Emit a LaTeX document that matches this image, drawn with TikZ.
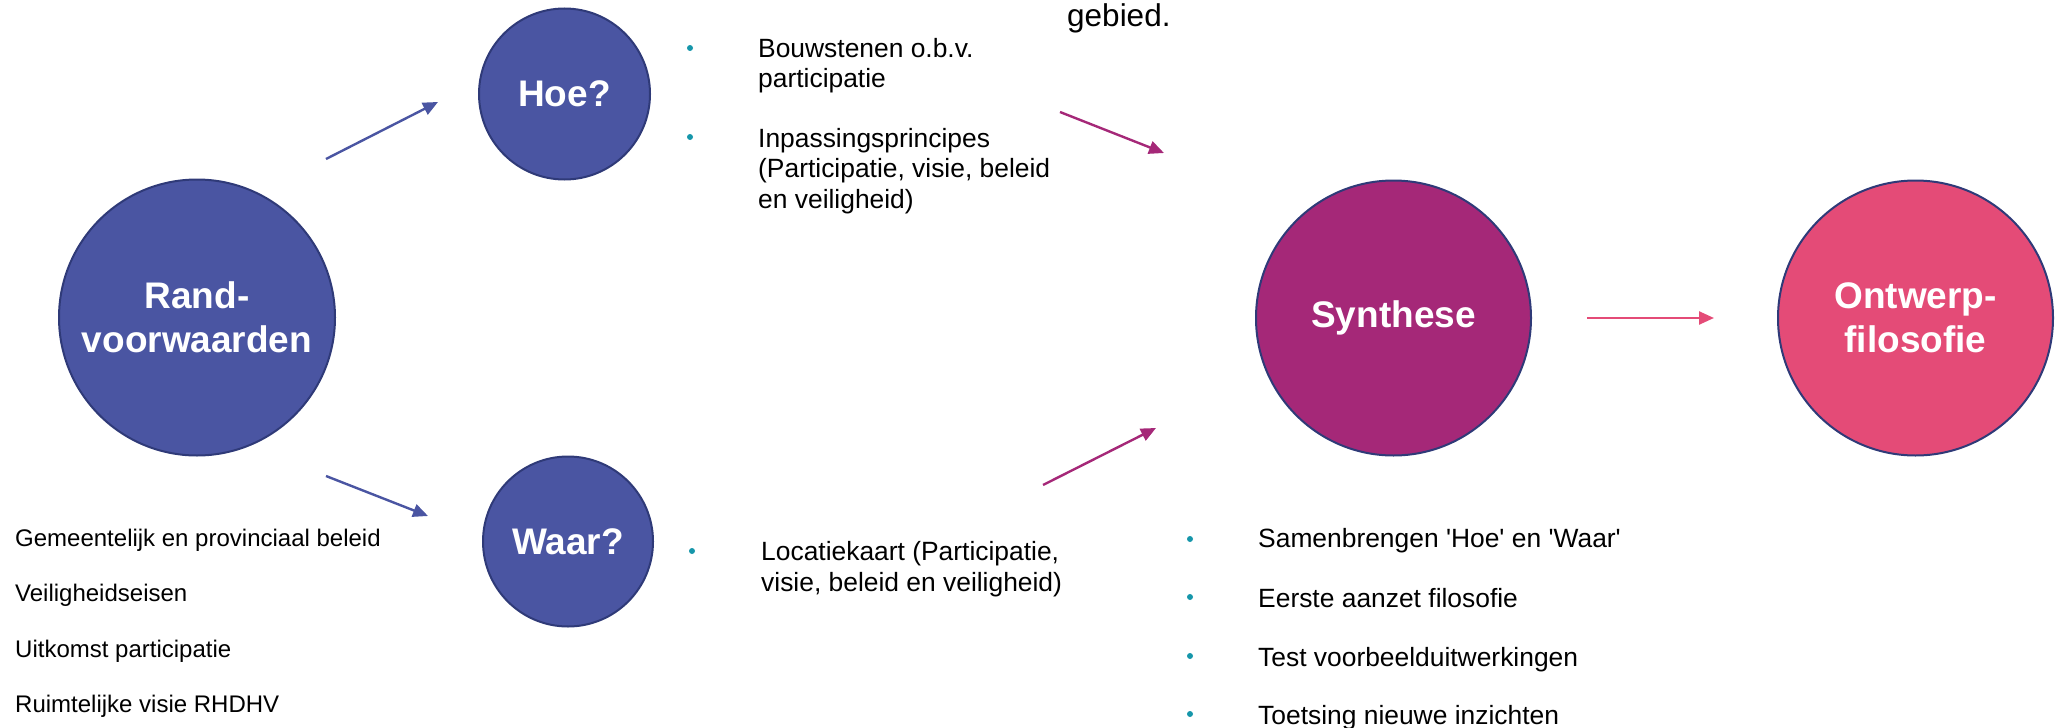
\documentclass[tikz,border=0pt]{standalone}
\usepackage{fontspec}
\setmainfont{Liberation Sans}
\usetikzlibrary{arrows.meta}
\definecolor{rhblue}{RGB}{74,85,162}
\definecolor{rhedge}{RGB}{47,58,120}
\definecolor{rhmag}{RGB}{165,40,120}
\definecolor{rhpink}{RGB}{228,75,119}
\definecolor{rhteal}{RGB}{22,150,170}
\begin{document}
\begin{tikzpicture}[x=1pt,y=-1pt,
  bubble/.style={circle, draw=rhedge, line width=2pt, text=white,
    font=\fontsize{37}{44}\selectfont\bfseries, align=center, inner sep=0pt},
  body/.style={font=\fontsize{26.4}{30.5}\selectfont, align=left, anchor=base west, inner sep=0pt},
  small/.style={font=\fontsize{24}{28}\selectfont, anchor=base west, inner sep=0pt},
  dot/.style={circle, fill=rhteal, inner sep=0pt, minimum size=6pt},
  flow/.style={line width=2.4pt, -{Triangle[length=15pt,width=13pt]}},
]
\useasboundingbox (0,0) rectangle (2057,728);

% circles
\node[bubble, fill=rhblue, minimum size=276pt] (rand) at (197,317.5) {Rand-\\voorwaarden};
\node[bubble, fill=rhblue, minimum size=171pt] (hoe) at (564.5,94) {Hoe?};
\node[bubble, fill=rhblue, minimum size=170pt] (waar) at (568,541.5) {Waar?};
\node[bubble, fill=rhmag, minimum size=275pt] (syn) at (1393.5,318) {Synthese};
\node[bubble, fill=rhpink, minimum size=275pt] (ont) at (1915.5,318) {Ontwerp-\\filosofie};

% top fragment
\node[font=\fontsize{31.5}{36}\selectfont, anchor=base west, inner sep=0pt] (gebied) at (1067,27) {gebied.};

% Hoe bullets (anchor = baseline of the last line)
\node[dot] (d1) at (690,48) {};
\node[body] (h1) at (758,87.5) {Bouwstenen o.b.v.\\participatie};
\node[dot] (d2) at (690,137) {};
\node[body] (h2) at (758,208) {Inpassingsprincipes\\(Participatie, visie, beleid\\en veiligheid)};

% Waar bullet
\node[dot] (d3) at (692,551) {};
\node[body] (w1) at (761,591) {Locatiekaart (Participatie,\\visie, beleid en veiligheid)};

% Rand list
\node[small] (r1) at (15,546) {Gemeentelijk en provinciaal beleid};
\node[small] (r2) at (15,601) {Veiligheidseisen};
\node[small] (r3) at (15,657) {Uitkomst participatie};
\node[small] (r4) at (15,712) {Ruimtelijke visie RHDHV};

% Synthese bullets
\node[dot] (s1d) at (1190,539) {};
\node[body] (s1) at (1258,547) {Samenbrengen \textquotesingle Hoe\textquotesingle{} en \textquotesingle Waar\textquotesingle};
\node[dot] (s2d) at (1190,597) {};
\node[body] (s2) at (1258,607) {Eerste aanzet filosofie};
\node[dot] (s3d) at (1190,656) {};
\node[body] (s3) at (1258,666) {Test voorbeelduitwerkingen};
\node[dot] (s4d) at (1190,714) {};
\node[body] (s4) at (1258,724) {Toetsing nieuwe inzichten};

% arrow end points
\coordinate (a1s) at (326,159); \coordinate (a1e) at (438,102);
\coordinate (a2s) at (326,476); \coordinate (a2e) at (428,516);
\coordinate (a3s) at (1060,112); \coordinate (a3e) at (1164,153);
\coordinate (a4s) at (1043,485); \coordinate (a4e) at (1156,428);
\coordinate (a5s) at (1587,318); \coordinate (a5e) at (1714,318);

\draw[flow, rhblue] (a1s) -- (a1e);
\draw[flow, rhblue] (a2s) -- (a2e);
\draw[flow, rhmag] (a3s) -- (a3e);
\draw[flow, rhmag] (a4s) -- (a4e);
\draw[flow, rhpink] (a5s) -- (a5e);
\end{tikzpicture}
\end{document}
